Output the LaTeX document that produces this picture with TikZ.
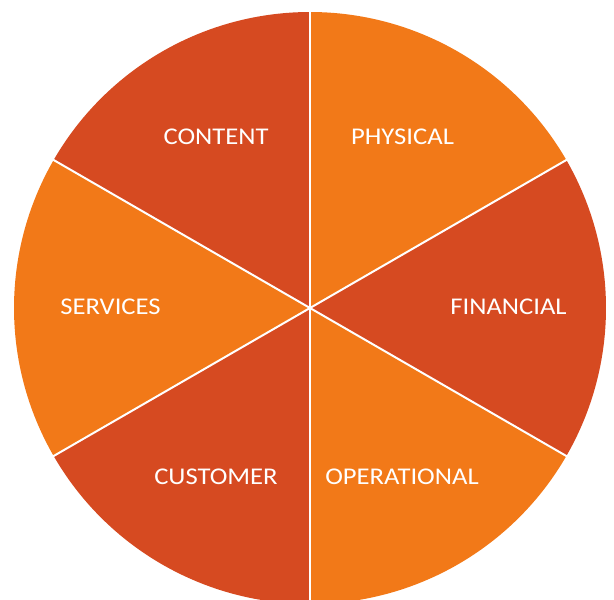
\documentclass[tikz,border=0pt]{standalone}
\usepackage{fontspec}
\setmainfont{Carlito}
\newfontfamily\lblfont[FakeStretch=1.11]{Carlito}
\definecolor{darkor}{HTML}{D64A21}
\definecolor{lightor}{HTML}{F27918}
\tikzset{
  sector/.style={draw=white, line width=2pt, line join=round},
  lbl/.style={text=white, font=\lblfont\fontsize{24}{27}\selectfont, inner sep=0pt, anchor=center}
}
\begin{document}
\begin{tikzpicture}[x=1pt,y=1pt]
\useasboundingbox (0,0) rectangle (614,-600);
\clip (0,0) rectangle (614,-600);
\coordinate (c) at (310,-308);
\def\R{296}
\fill[darkor]  (c) -- ++(90:\R) arc (90:150:\R) -- cycle;
\fill[lightor] (c) -- ++(150:\R) arc (150:210:\R) -- cycle;
\fill[darkor]  (c) -- ++(210:\R) arc (210:270:\R) -- cycle;
\fill[lightor] (c) -- ++(270:\R) arc (270:330:\R) -- cycle;
\fill[darkor]  (c) -- ++(330:\R) arc (330:390:\R) -- cycle;
\fill[lightor] (c) -- ++(30:\R) arc (30:90:\R) -- cycle;
\foreach \a in {30,90,150,210,270,330}
  \draw[sector] (c) -- ++(\a:\R+2);
\node[lbl] (content) at (216,-137) {CONTENT};
\node[lbl] (physical) at (402.5,-137) {PHYSICAL};
\node[lbl] (financial) at (508.5,-306.5) {FINANCIAL};
\node[lbl] (services) at (110.5,-306.5) {SERVICES};
\node[lbl] (customer) at (216,-476.5) {CUSTOMER};
\node[lbl] (operational) at (402,-476.5) {OPERATIONAL};
\end{tikzpicture}
\end{document}
